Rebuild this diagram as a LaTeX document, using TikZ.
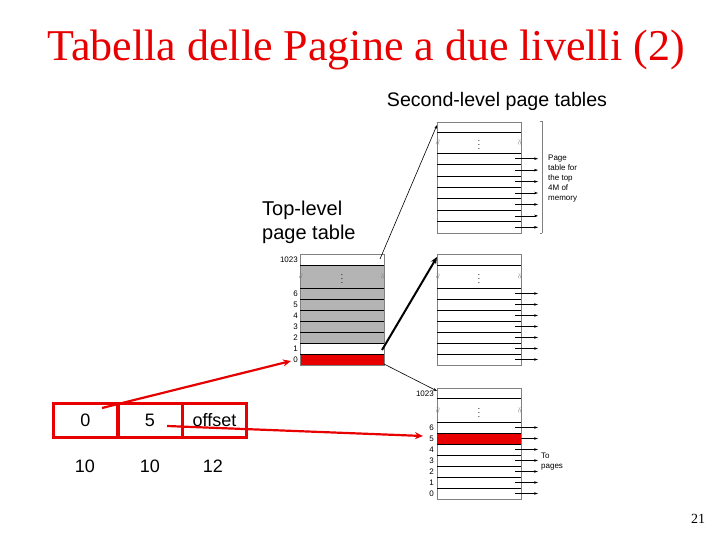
\documentclass[tikz,border=0pt]{standalone}
\usepackage{fontspec}
\setmainfont{Liberation Serif}
\setsansfont{Liberation Sans}
\usetikzlibrary{calc,arrows.meta}
\definecolor{pgred}{RGB}{232,0,0}
\definecolor{pggrey}{RGB}{180,180,180}

\begin{document}
\begin{tikzpicture}[x=1pt, y=-1pt,
    tbltxt/.style={font=\sffamily\fontsize{8}{10}\selectfont, inner sep=0pt},
    dots/.style={inner sep=0pt, font=\fontsize{9}{9}\selectfont},
    wave/.style={font=\fontsize{7}{7}\selectfont, inner sep=0pt, rotate=90, gray},
    outarrow/.style={-{Stealth[length=4pt,width=2.6pt]}, line width=0.5pt},
    addrbox/.style={draw=pgred, line width=3pt, minimum width=64pt, minimum height=34pt,
      font=\sffamily\fontsize{18}{20}\selectfont},
    redarrow/.style={draw=pgred, line width=2.2pt, -{Stealth[length=8pt,width=7pt]}}]

    \useasboundingbox (0,0) rectangle (720,540);

    \node[text=pgred, font=\fontsize{44}{48}\selectfont] (title) at (366,50)
      {Tabella delle Pagine a due livelli (2)};
    \node[font=\sffamily\fontsize{19.6}{22}\selectfont] (sltitle) at (497,101)
      {Second-level page tables};
    \node[font=\sffamily\fontsize{20}{24}\selectfont, align=left, anchor=west, inner sep=0pt]
      (tltitle) at (262,222) {Top-level\\page table};

    % top-level page table
    \fill[pggrey] (300,265) rectangle (384,343);
    \fill[pgred] (300,355) rectangle (384,365);
    \draw[gray, line width=0.6pt] (300,254) rectangle (384,365);
    \foreach \y in {265,288,299,310,321,332,343,354}
      \draw[line width=0.6pt] (300,\y) -- (384,\y);
    \node[tbltxt, anchor=east] (tl1023) at (298,259.5) {1023};
    \foreach \n [count=\i from 0] in {6,5,4,3,2,1,0}
      \node[tbltxt, anchor=east] (tl\n) at (298,293.5+11*\i) {\n};
    \node[dots] (tldots) at (342,276.5) {$\vdots$};
    \node[wave] (tlwl) at (301,276.5) {$\approx$};
    \node[wave] (tlwr) at (383,276.5) {$\approx$};

    % second-level page tables
    \foreach \t/\a/\b/\h/\name in {122/132/153/11.43/top, 254/265/288/11/mid, 388/398/422/11/bot}{
      \pgfmathsetmacro{\e}{\b+7*\h}
      \draw[gray, line width=0.6pt] (437,\t) rectangle (521,\e);
      \draw[line width=0.6pt] (437,\a) -- (521,\a);
      \foreach \k in {0,...,6}{
        \pgfmathsetmacro{\yy}{\b+\k*\h}
        \pgfmathsetmacro{\ym}{\b+(\k+0.5)*\h}
        \draw[line width=0.6pt] (437,\yy) -- (521,\yy);
        \coordinate (\name-s\k) at (515,\ym);
        \coordinate (\name-e\k) at (538,\ym);
        \draw[outarrow] (\name-s\k) -- (\name-e\k);
      }
      \node[dots] (\name-dots) at (479,{(\a+\b)/2}) {$\vdots$};
      \node[wave] (\name-wl) at (438,{(\a+\b)/2}) {$\approx$};
      \node[wave] (\name-wr) at (520,{(\a+\b)/2}) {$\approx$};
      \coordinate (\name-in) at (437,{\t+3});
    }

    % selected entry of the bottom table
    \fill[pgred] (437.3,433.5) rectangle (520.7,443.5);
    \node[tbltxt, anchor=east] (bt1023) at (434,394) {1023};
    \foreach \n [count=\i from 0] in {6,5,4,3,2,1,0}
      \node[tbltxt, anchor=east] (bt\n) at (434,427.5+11*\i) {\n};

    % notes on the right
    \draw[gray, line width=0.4pt] (542,121) -- (542,233);
    \draw[gray, line width=0.4pt] (540,121) -- (542,121) (540,233) -- (542,233);
    \node[tbltxt, align=left, anchor=north west] (memnote) at (548,155)
      {Page\\table for\\the top\\4M of\\memory};
    \node[tbltxt, align=left, anchor=north west] (pgnote) at (541,453) {To\\pages};

    % top-level entries to second-level tables
    \coordinate (tl-e1023) at (380,259);
    \coordinate (tl-e1) at (382,350);
    \coordinate (tl-e0) at (384,364);
    \draw[outarrow, line width=0.6pt] (tl-e1023) -- (top-in);
    \draw[line width=2pt, -{Stealth[length=7pt,width=6pt]}] (tl-e1) -- (437,257);
    \draw[outarrow, line width=0.6pt] (tl-e0) -- (bot-in);

    % virtual address
    \node[addrbox] (pt1) at (85.5,420.5) {0};
    \node[addrbox] (pt2) at (150,420.5) {5};
    \node[addrbox] (off) at (214.5,420.5) {offset};
    \node[font=\sffamily\fontsize{18}{20}\selectfont] (pt1bits) at (85,466) {10};
    \node[font=\sffamily\fontsize{18}{20}\selectfont] (pt2bits) at (150,466) {10};
    \node[font=\sffamily\fontsize{18}{20}\selectfont] (offbits) at (213,466) {12};

    \coordinate (pt1-out) at (102,408);
    \coordinate (tl-in0) at (291,361);
    \coordinate (pt2-out) at (167,426);
    \coordinate (bt-in5) at (423,436);
    \draw[redarrow] (pt1-out) -- (tl-in0);
    \draw[redarrow] (pt2-out) -- (bt-in5);

    \node[font=\fontsize{14}{16}\selectfont] (pageno) at (698,519) {21};
\end{tikzpicture}
\end{document}
